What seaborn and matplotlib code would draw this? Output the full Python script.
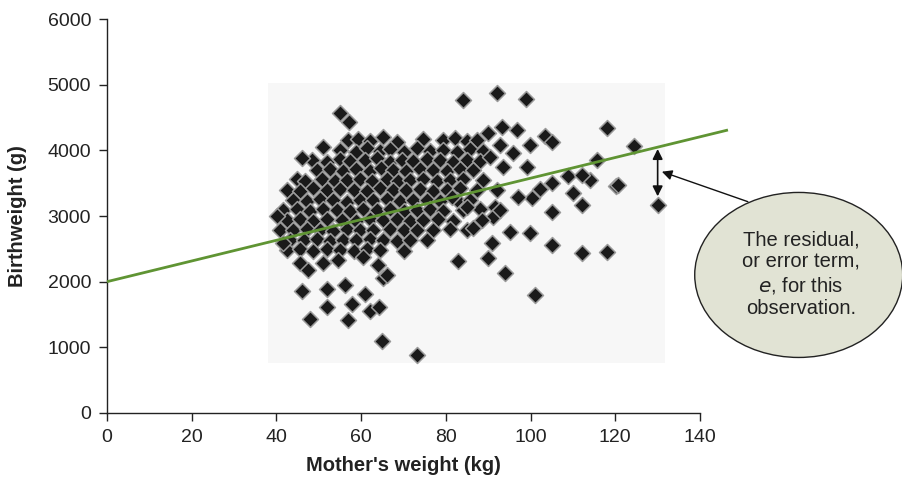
import matplotlib
matplotlib.use("Agg")
import matplotlib.pyplot as plt
from matplotlib.patches import Ellipse, Rectangle
import seaborn as sns
import pandas as pd

# Mother's weight (kg) and birthweight (g) for the main body of the sample
core_weight = [
    57.0, 59.3, 62.1, 65.2, 68.4, 74.7, 79.4, 82.2, 84.9, 87.3,
    55.0, 58.9, 61.3, 64.5, 66.8, 70.0, 73.1, 76.3, 79.4, 82.6, 85.7, 88.8,
    48.3, 51.9, 55.0, 57.4, 60.9, 63.7, 66.8, 69.6, 72.3, 75.5, 78.6, 81.8, 84.9, 88.1,
    49.5, 52.6, 55.8, 58.9, 62.1, 64.8, 67.6, 70.7, 73.9, 77.0, 80.2, 83.3, 86.5,
    44.8, 46.8, 50.7, 53.8, 56.6, 59.7, 62.5, 66.0, 68.8, 71.5, 74.7, 77.8, 81.0, 84.1,
    42.4, 45.6, 48.7, 51.9, 55.0, 58.2, 61.3, 64.5, 67.6, 70.7, 73.9, 77.0, 80.2, 83.3, 87.3,
    44.0, 47.1, 50.3, 53.4, 56.6, 59.7, 62.9, 66.0, 69.2, 72.3, 75.5, 78.6, 82.6, 85.7,
    41.6, 44.8, 47.9, 51.1, 54.2, 57.4, 60.5, 63.7, 66.8, 70.0, 73.1, 76.3, 79.4, 84.1, 88.1,
    42.4, 45.6, 48.7, 51.9, 55.4, 58.9, 62.1, 65.2, 68.4, 71.5, 74.7, 78.2, 81.8,
    40.8, 44.0, 47.1, 50.3, 53.4, 56.6, 59.7, 62.9, 66.8, 70.0, 73.1, 77.0, 81.0,
    43.2, 46.4, 49.5, 52.6, 55.8, 58.9, 62.1, 65.2, 68.4, 71.5, 75.5,
    42.4, 45.6, 48.7, 51.9, 55.0, 58.2, 61.3, 64.5, 70.0,
]
core_birthweight = [
    4150, 4180, 4140, 4200, 4130, 4170, 4150, 4190, 4140, 4160,
    4010, 3980, 4030, 3990, 4020, 3970, 4040, 3990, 4010, 3980, 4020, 3990,
    3860, 3830, 3870, 3840, 3850, 3880, 3830, 3860, 3840, 3870, 3850, 3830, 3860, 3840,
    3700, 3720, 3690, 3710, 3680, 3730, 3700, 3690, 3720, 3700, 3680, 3710, 3700,
    3560, 3540, 3570, 3530, 3550, 3560, 3540, 3570, 3530, 3550, 3560, 3540, 3550, 3560,
    3400, 3380, 3420, 3390, 3410, 3400, 3380, 3420, 3390, 3400, 3410, 3380, 3400, 3420, 3390,
    3250, 3230, 3260, 3240, 3220, 3250, 3240, 3260, 3230, 3250, 3240, 3230, 3250, 3240,
    3090, 3100, 3080, 3110, 3090, 3070, 3100, 3090, 3110, 3080, 3090, 3100, 3080, 3090, 3100,
    2940, 2950, 2930, 2960, 2940, 2930, 2950, 2940, 2960, 2930, 2940, 2950, 2930,
    2790, 2780, 2800, 2790, 2770, 2800, 2790, 2780, 2800, 2790, 2780, 2790, 2800,
    2640, 2630, 2650, 2620, 2640, 2630, 2650, 2640, 2620, 2640, 2630,
    2480, 2490, 2470, 2490, 2480, 2470, 2490, 2480, 2470,
]

# Scattered observations around the edges of the cloud
outer_weight = [
    84.1, 92.0, 98.9, 55.0, 57.2, 118.1, 124.3, 130.1, 120.2, 118.1,
    112.1, 105.0, 101.0, 94.0, 90.0, 91.0, 82.9, 73.1, 65.0, 47.9,
    57.0, 52.0, 46.0, 51.9, 56.2, 60.9, 57.9, 62.0, 64.2, 65.1,
    66.0, 64.0, 45.6, 47.5, 51.1, 54.6, 60.5, 40.1, 41.6, 46.0,
    51.1, 105.0, 99.9, 95.1, 100.3, 97.1, 112.1, 110.1, 108.9, 114.0,
    115.6, 105.0, 102.2, 103.4, 105.0, 90.0, 93.2, 96.7, 99.9, 92.8,
    90.4, 93.6, 95.9, 99.1, 88.8, 92.0, 91.6, 91.2, 88.5, 84.9,
    84.9, 81.4, 112.1, 120.7, 86.5, 92.8,
]
outer_birthweight = [
    4767, 4878, 4778, 4564, 4437, 4336, 4066, 3168, 3457, 2457,
    2442, 2559, 1790, 2128, 2356, 2584, 2320, 883, 1100, 1437,
    1416, 1610, 1855, 1895, 1950, 1815, 1660, 1560, 1610, 2051,
    2102, 2254, 2280, 2178, 2280, 2330, 2381, 3000, 2584, 3879,
    4056, 3067, 2746, 2761, 3270, 3295, 3168, 3346, 3610, 3549,
    3853, 3498, 3407, 4219, 4133, 4259, 4351, 4310, 4082, 4082,
    3894, 3752, 3955, 3752, 3549, 3396, 3143, 2990, 2940, 2787,
    3143, 3295, 3625, 3472, 2813, 3092,
]

# Fitted regression line (intercept 2000 g)
line_weight = [0.0, 146.6]
line_birthweight = [2000.0, 4310.0]

# Residual for the observation at 130 kg
residual_weight = 130.0
residual_top = 4020.0
residual_bottom = 3300.0

df = pd.DataFrame({
    "weight": core_weight + outer_weight,
    "birthweight": core_birthweight + outer_birthweight,
})

sns.set_theme(style="ticks")
plt.rcParams["font.family"] = ["Liberation Sans", "DejaVu Sans"]

fig = plt.figure(figsize=(9.03, 4.79), dpi=100)
ax = fig.add_axes([0.1185, 0.1378, 0.6567, 0.8225])

# faint panel behind the points
ax.add_patch(Rectangle((38.0, 760), 93.7, 4270, facecolor="#f7f7f7",
                       edgecolor="none", zorder=0))

sns.scatterplot(data=df, x="weight", y="birthweight", marker="D", s=66,
                color="#1a1a1a", edgecolor="#9a9a9a", linewidth=1.1,
                ax=ax, zorder=2, legend=False)

ax.plot(line_weight, line_birthweight, color="#5f9433", lw=2.0,
        clip_on=False, zorder=3, solid_capstyle="butt")

ax.annotate("", xy=(residual_weight, residual_top),
            xytext=(residual_weight, residual_bottom),
            arrowprops=dict(arrowstyle="<|-|>", color="#111111", lw=1.2,
                            mutation_scale=15, shrinkA=0, shrinkB=0),
            annotation_clip=False, zorder=4)

ax.set_xlim(0, 140)
ax.set_ylim(0, 6000)
ax.set_xticks(range(0, 141, 20))
ax.set_yticks(range(0, 6001, 1000))

for side in ("top", "right"):
    ax.spines[side].set_visible(False)
for side in ("left", "bottom"):
    ax.spines[side].set_color("#222222")
    ax.spines[side].set_linewidth(1.0)

ax.tick_params(axis="both", direction="out", length=5.5, width=1.0,
               color="#222222", labelcolor="#222222", labelsize=14)
ax.tick_params(axis="y", pad=6)
ax.tick_params(axis="x", pad=6)

ax.set_xlabel("Mother's weight (kg)", fontsize=14.5, fontweight="bold",
              color="#222222", labelpad=7)
ax.set_ylabel("Birthweight (g)", fontsize=14.5, fontweight="bold",
              color="#222222")
ax.yaxis.set_label_coords(-0.135, 0.5)

# callout bubble
bubble = Ellipse((0.8845, 0.426), 0.2303, 0.3445, transform=fig.transFigure,
                 facecolor="#e1e3d4", edgecolor="#222222", lw=1.0, zorder=5)
fig.patches.append(bubble)

fig.text(0.887, 0.428,
         "The residual,\nor error term,\n$\\it{e}$, for this\nobservation.",
         ha="center", va="center", fontsize=14.5, color="#222222",
         linespacing=1.2, zorder=6)

ax.annotate("", xy=(131.0, 3675), xytext=(151.3, 3218),
            arrowprops=dict(arrowstyle="-|>", color="#111111", lw=1.0,
                            mutation_scale=15, shrinkA=0, shrinkB=0),
            annotation_clip=False, zorder=4)

fig.savefig("out.png", dpi=100)
